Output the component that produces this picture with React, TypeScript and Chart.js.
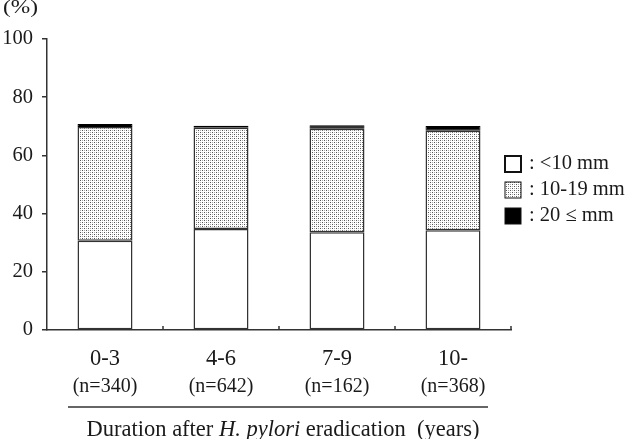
import React, { useEffect, useRef } from 'react';
import { Chart, registerables } from 'chart.js';

Chart.register(...registerables);

const categories = ['0-3', '4-6', '7-9', '10-'];
const nLabels = ['(n=340)', '(n=642)', '(n=162)', '(n=368)'];
const under10 = [30.7, 34.7, 33.6, 34.3];
const mid10to19 = [39.1, 34.8, 35.6, 34.2];
const over20 = [1.0, 0.7, 1.2, 1.6];
const seriesLabels = ['<10 mm', '10-19 mm', '20 ≤ mm'];
const yTicks = [0, 20, 40, 60, 80, 100];
const yUnit = '(%)';
const titleParts = [
  { text: 'Duration after ', italic: false },
  { text: 'H. pylori', italic: true },
  { text: ' eradication  (years)', italic: false },
];

const FONT = '"Liberation Serif", "Times New Roman", serif';
const INK = '#1a1a1a';
const LINE = '#333333';

function makePattern(): CanvasPattern | string {
  const c = document.createElement('canvas');
  c.width = 4;
  c.height = 4;
  const g = c.getContext('2d');
  if (!g) return '#ddd';
  g.fillStyle = '#ffffff';
  g.fillRect(0, 0, 4, 4);
  g.fillStyle = '#555555';
  g.fillRect(0, 0, 1, 1);
  g.fillRect(2, 2, 1, 1);
  g.fillStyle = '#aaaaaa';
  g.fillRect(2, 0, 1, 1);
  g.fillRect(0, 2, 1, 1);
  const p = g.createPattern(c, 'repeat');
  return p || '#ddd';
}

export default function App() {
  const ref = useRef<HTMLCanvasElement | null>(null);

  useEffect(() => {
    const canvas = ref.current;
    if (!canvas) return;
    const pattern = makePattern();
    const fills: any[] = ['#ffffff', pattern, '#000000'];

    const decor = {
      id: 'decor',
      afterDraw(chart: any) {
        const ctx = chart.ctx as CanvasRenderingContext2D;
        const xs = chart.scales.x;
        const ys = chart.scales.y;
        ctx.save();
        // small inward ticks at category boundaries
        ctx.strokeStyle = LINE;
        ctx.lineWidth = 1.5;
        for (let i = 0; i < categories.length; i++) {
          const b =
            i < categories.length - 1
              ? (xs.getPixelForValue(i) + xs.getPixelForValue(i + 1)) / 2
              : xs.right;
          ctx.beginPath();
          ctx.moveTo(b, ys.bottom);
          ctx.lineTo(b, ys.bottom - 4);
          ctx.stroke();
        }
        // unit label (wide glyphs, like the original)
        ctx.fillStyle = INK;
        ctx.font = `18px ${FONT}`;
        ctx.textAlign = 'left';
        ctx.textBaseline = 'alphabetic';
        const uw = ctx.measureText(yUnit).width;
        ctx.save();
        ctx.translate(3, 13);
        ctx.scale(35 / uw, 1);
        ctx.fillText(yUnit, 0, 0);
        ctx.restore();
        // underline separating labels and title
        ctx.beginPath();
        ctx.moveTo(68, 407);
        ctx.lineTo(488, 407);
        ctx.stroke();
        // title with italic part
        const fNormal = `22.5px ${FONT}`;
        const fItalic = `italic 22.5px ${FONT}`;
        let total = 0;
        for (const p of titleParts) {
          ctx.font = p.italic ? fItalic : fNormal;
          total += ctx.measureText(p.text).width;
        }
        let x = 283 - total / 2;
        for (const p of titleParts) {
          ctx.font = p.italic ? fItalic : fNormal;
          ctx.fillText(p.text, x, 436);
          x += ctx.measureText(p.text).width;
        }
        // legend
        const bx = 505;
        const by = [156, 182, 208];
        const bs = 16;
        ctx.font = `20.5px ${FONT}`;
        ctx.textBaseline = 'middle';
        for (let i = 0; i < seriesLabels.length; i++) {
          ctx.fillStyle = fills[i];
          ctx.fillRect(bx, by[i], bs, bs);
          ctx.strokeStyle = '#111';
          ctx.lineWidth = i === 0 ? 2 : 1;
          ctx.strokeRect(bx, by[i], bs, bs);
          ctx.fillStyle = INK;
          ctx.fillText(': ' + seriesLabels[i], 529, by[i] + bs / 2);
        }
        ctx.restore();
      },
    };

    const chart = new Chart(canvas, {
      type: 'bar',
      data: {
        labels: categories,
        datasets: [
          { label: seriesLabels[0], data: under10, backgroundColor: fills[0], borderColor: LINE, borderWidth: 1.5, borderSkipped: false },
          { label: seriesLabels[1], data: mid10to19, backgroundColor: fills[1], borderColor: LINE, borderWidth: 1.5, borderSkipped: false },
          { label: seriesLabels[2], data: over20, backgroundColor: fills[2], borderColor: '#000', borderWidth: 1, borderSkipped: false },
        ],
      },
      options: {
        animation: false,
        responsive: false,
        maintainAspectRatio: false,
        devicePixelRatio: 1,
        layout: { padding: { top: 39, right: 119, bottom: 0, left: 0 } },
        datasets: { bar: { categoryPercentage: 1, barPercentage: 0.474 } },
        plugins: { legend: { display: false }, tooltip: { enabled: false }, title: { display: false } },
        scales: {
          x: {
            type: 'category',
            stacked: true,
            offset: true,
            position: 'bottom',
            weight: 0,
            grid: { display: false, drawTicks: false },
            border: { display: true, color: LINE, width: 1.5 },
            ticks: { color: INK, font: { family: FONT, size: 22.5 }, padding: 16, maxRotation: 0, autoSkip: false },
            afterFit: (s: any) => { s.height = 40; },
          },
          x2: {
            type: 'category',
            offset: true,
            position: 'bottom',
            weight: 1,
            grid: { display: false, drawTicks: false },
            border: { display: false },
            ticks: {
              color: INK,
              font: { family: FONT, size: 20 },
              padding: 5,
              maxRotation: 0,
              autoSkip: false,
              callback: (_v: any, i: number) => nLabels[i],
            },
            afterFit: (s: any) => { s.height = 69; },
          },
          y: {
            stacked: true,
            min: 0,
            max: 100,
            afterBuildTicks: (s: any) => { s.ticks = yTicks.map((v) => ({ value: v })); },
            grid: { drawOnChartArea: false, drawTicks: true, tickLength: 5, color: LINE, lineWidth: 1.5 },
            border: { display: true, color: LINE, width: 1.5 },
            ticks: { color: INK, font: { family: FONT, size: 20.5 }, padding: 9 },
            afterFit: (s: any) => { s.width = 47; },
          },
        },
      },
      plugins: [decor],
    } as any);

    return () => chart.destroy();
  }, []);

  return (
    <div style={{ position: 'fixed', left: 0, top: 0, width: 630, height: 439, background: '#fff' }}>
      <canvas ref={ref} width={630} height={439} style={{ display: 'block', width: 630, height: 439 }} />
    </div>
  );
}
